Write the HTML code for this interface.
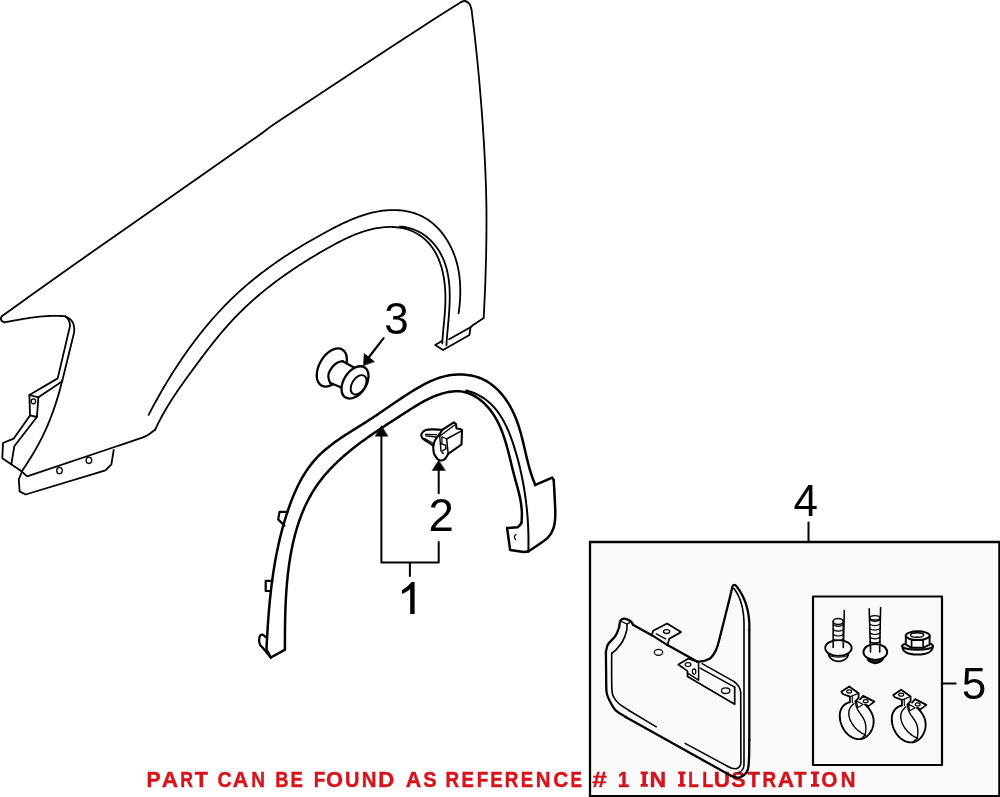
<!DOCTYPE html>
<html><head><meta charset="utf-8"><style>
html,body{margin:0;padding:0;background:#fff;width:1000px;height:797px;overflow:hidden}
svg{position:absolute;left:0;top:0;display:block}
.num{font-family:"Liberation Sans",sans-serif;font-size:44px;fill:#000}
.cap{mix-blend-mode:multiply;stroke:#d7141c;stroke-width:0.45px;font-family:"Liberation Sans",sans-serif;font-size:22.2px;font-weight:bold;fill:#d7141c}
</style></head><body>
<svg width="1000" height="797" viewBox="0 0 1000 797">
<g stroke="#000" stroke-linecap="round" stroke-linejoin="round">
<rect x="590" y="542" width="409.4" height="254.2" fill="#fafafa" stroke="none"/>
<path d="M1.8,316.3 C5.6,313.6 9.8,310.5 24.5,300.0 C39.2,289.5 52.4,279.9 90.0,253.5 C127.6,227.1 218.3,163.8 250.0,141.6 C281.7,119.4 256.7,135.9 280.0,120.3 C303.3,104.7 365.0,64.2 390.0,47.8 C415.0,31.4 418.1,29.5 430.0,21.8 C441.9,14.1 456.3,5.1 461.6,1.8" fill="none" stroke-width="1.8" />
<path d="M461.6,1.8 Q466,-0.8 469.9,4.5 Q472,9 472.2,15 C478,60 486.5,150 486.5,220 C486.5,262 485,295 483.7,318.1 L472.4,325.6" fill="none" stroke-width="1.8" />
<path d="M1.8,316.3 Q-1,320.5 4.4,322.3" fill="none" stroke-width="1.8" />
<path d="M4.40,322.30 L6.48,321.93 L8.55,321.55 L10.63,321.18 L12.71,320.80 L14.79,320.42 L16.87,320.05 L18.95,319.68 L21.03,319.32 L23.12,318.97 L25.20,318.63 L27.29,318.30 L29.38,317.98 L31.47,317.68 L33.56,317.40 L35.65,317.13 L37.75,316.88 L39.85,316.66 L41.95,316.46 L44.05,316.28 L46.15,316.14 L48.26,316.02 L50.37,315.93 L52.48,315.87 L54.59,315.85 L56.71,315.86 L58.83,315.91 L60.95,316.00 L63.07,316.13 L65.20,316.30 Q71.5,318.5 73.5,324 Q74.8,329 74,333 L62.4,380.3" fill="none" stroke-width="1.8" />
<path d="M62.28,380.25 L61.79,382.25 L61.29,384.25 L60.78,386.24 L60.26,388.23 L59.72,390.22 L59.17,392.20 L58.61,394.18 L58.04,396.15 L57.45,398.11 L56.85,400.08 L56.23,402.03 L55.60,403.99 L54.96,405.93 L54.30,407.87 L53.63,409.81 L52.94,411.74 L52.24,413.66 L51.52,415.58 L50.79,417.49 L50.04,419.39 L49.28,421.29 L48.50,423.18 L47.70,425.06 L46.89,426.94 L46.07,428.81 L45.23,430.67 L44.37,432.53 L43.49,434.37 L42.60,436.21 L41.69,438.05 L40.76,439.87 L39.82,441.69 L38.86,443.49 L37.88,445.29 L36.89,447.08 L35.88,448.87 L34.86,450.65 L33.82,452.42 L32.77,454.18 L31.71,455.94 L30.64,457.69 L29.56,459.43 L28.46,461.18 L27.36,462.91 L26.25,464.64 L25.14,466.37 L24.01,468.09 L22.88,469.81 L21.75,471.52" fill="none" stroke-width="1.8" />
<path d="M65.2,316.3 Q70.2,320 70,326 L57.7,378.4 L29.4,395" fill="none" stroke-width="1.8" />
<path d="M62.4,381.2 L38.4,397.3" fill="none" stroke-width="1.8" />
<path d="M29.4,395.0 L38.4,397.3 L36.9,417.0 L30.0,415.4 L29.4,395.0" fill="none" stroke-width="1.8" />
<ellipse cx="33.4" cy="401.3" rx="2.2" ry="2.5" fill="none" stroke-width="1.3"/>
<path d="M30.0,415.4 L13.6,438.7 L3.0,443.0 L2.3,458.3 L21.9,471.6 L27.1,476.4 L119.0,445.5" fill="none" stroke-width="1.8" />
<path d="M119.0,445.5 C122.5,444.3 135.2,440.1 140.0,438.4 C144.8,436.7 145.0,436.8 147.5,435.3 C150.0,433.9 153.8,430.6 155.0,429.7" fill="none" stroke-width="1.8" />
<path d="M36.9,417.0 L14.3,446.3 L11.3,464.3" fill="none" stroke-width="1.8" />
<path d="M21.8,472.0 L18.8,479.4 L19.6,491.4 L25.6,494.5 L105.4,470.4 L111.4,464.3 L113.7,450.0" fill="none" stroke-width="1.8" />
<ellipse cx="59.5" cy="470.6" rx="2.8" ry="3.2" fill="none" stroke-width="1.3"/>
<ellipse cx="88.9" cy="460.3" rx="2.8" ry="3.2" fill="none" stroke-width="1.3"/>
<path d="M148.61,414.91 L149.51,413.16 L150.43,411.42 L151.35,409.67 L152.27,407.93 L153.21,406.18 L154.15,404.44 L155.10,402.69 L156.06,400.95 L157.02,399.20 L157.99,397.46 L158.97,395.72 L159.96,393.98 L160.95,392.25 L161.95,390.51 L162.96,388.78 L163.97,387.05 L165.00,385.32 L166.03,383.59 L167.07,381.86 L168.11,380.14 L169.16,378.42 L170.22,376.70 L171.29,374.99 L172.36,373.28 L173.45,371.57 L174.54,369.87 L175.63,368.17 L176.74,366.47 L177.85,364.78 L178.97,363.09 L180.09,361.40 L181.23,359.72 L182.37,358.04 L183.52,356.37 L184.68,354.71 L185.84,353.04 L187.01,351.39 L188.19,349.73 L189.38,348.09 L190.57,346.45 L191.77,344.81 L192.98,343.18 L194.20,341.56 L195.42,339.94 L196.66,338.33 L197.90,336.72 L199.14,335.12 L200.40,333.53 L201.66,331.94 L202.93,330.36 L204.21,328.79 L205.49,327.23 L206.78,325.67 L208.08,324.12 L209.39,322.58 L210.71,321.05 L212.03,319.52 L213.36,318.00 L214.70,316.49 L216.04,314.99 L217.40,313.50 L218.76,312.01 L220.13,310.53 L221.50,309.07 L222.89,307.61 L224.28,306.16 L225.68,304.72 L227.09,303.29 L228.50,301.87 L229.92,300.46 L231.35,299.06 L232.79,297.67 L234.24,296.29 L235.69,294.92 L237.15,293.56 L238.62,292.21 L240.10,290.87 L241.58,289.54 L243.07,288.22 L244.57,286.91 L246.08,285.60 L247.59,284.31 L249.11,283.03 L250.64,281.75 L252.17,280.48 L253.71,279.23 L255.26,277.98 L256.82,276.74 L258.38,275.50 L259.95,274.28 L261.53,273.06 L263.11,271.86 L264.70,270.66 L266.30,269.47 L267.90,268.28 L269.51,267.11 L271.13,265.94 L272.76,264.78 L274.39,263.63 L276.02,262.48 L277.67,261.34 L279.32,260.21 L280.97,259.09 L282.64,257.97 L284.31,256.86 L285.98,255.75 L287.66,254.66 L289.35,253.56 L291.04,252.48 L292.74,251.40 L294.45,250.33 L296.16,249.26 L297.88,248.20 L299.60,247.15 L301.33,246.10 L303.07,245.06 L304.81,244.02 L306.56,242.99 L308.31,241.96 L310.07,240.94 L311.83,239.92 L313.60,238.91 L315.38,237.91 L317.16,236.91 L318.94,235.91 L320.74,234.92 L322.53,233.93 L324.33,232.95 L326.14,231.97 L327.95,230.99 L329.77,230.03 L331.59,229.07 L333.42,228.11 L335.26,227.17 L337.10,226.24 L338.94,225.33 L340.79,224.42 L342.64,223.54 L344.50,222.67 L346.37,221.81 L348.24,220.98 L350.12,220.17 L352.00,219.37 L353.89,218.61 L355.78,217.86 L357.68,217.14 L359.58,216.45 L361.49,215.79 L363.40,215.16 L365.32,214.55 L367.25,213.98 L369.18,213.44 L371.12,212.94 L373.06,212.47 L375.01,212.04 L376.96,211.65 L378.92,211.30 L380.88,210.99 L382.85,210.72 L384.83,210.50 L386.81,210.32 L388.79,210.19 L390.79,210.10 L392.78,210.07 L394.78,210.08 L396.78,210.14 L398.78,210.26 L400.77,210.43 L402.75,210.65 L404.73,210.93 L406.69,211.27 L408.63,211.66 L410.56,212.11 L412.47,212.63 L414.36,213.20 L416.22,213.84 L418.05,214.53 L419.86,215.30 L421.63,216.13 L423.37,217.02 L425.07,217.98 L426.74,218.99 L428.37,220.07 L429.97,221.21 L431.53,222.40 L433.05,223.65 L434.54,224.95 L435.99,226.30 L437.40,227.70 L438.77,229.15 L440.10,230.64 L441.40,232.18 L442.65,233.75 L443.86,235.37 L445.04,237.03 L446.17,238.72 L447.26,240.45 L448.31,242.21 L449.31,244.00 L450.27,245.82 L451.19,247.66 L452.07,249.54 L452.90,251.43 L453.68,253.35 L454.42,255.29 L455.11,257.25 L455.76,259.22 L456.36,261.21 L456.92,263.21 L457.43,265.22 L457.89,267.24 L458.30,269.28 L458.68,271.31 L459.01,273.36 L459.30,275.40 L459.55,277.46 L459.76,279.51 L459.93,281.56 L460.07,283.61 L460.17,285.66 L460.24,287.71 L460.28,289.75 L460.28,291.78 L460.25,293.80 L460.20,295.82 L460.12,297.82 L460.01,299.82 L459.87,301.79 L459.71,303.76 L459.53,305.71 L459.32,307.63 L459.10,309.55 L458.85,311.44 L458.59,313.30" fill="none" stroke-width="1.8" />
<path d="M155.10,429.81 L155.97,427.94 L156.85,426.09 L157.75,424.25 L158.66,422.43 L159.58,420.62 L160.52,418.82 L161.48,417.04 L162.44,415.26 L163.42,413.51 L164.42,411.76 L165.42,410.02 L166.44,408.29 L167.46,406.58 L168.50,404.87 L169.55,403.17 L170.61,401.48 L171.68,399.80 L172.76,398.13 L173.85,396.46 L174.95,394.80 L176.06,393.14 L177.17,391.49 L178.29,389.85 L179.42,388.21 L180.56,386.58 L181.71,384.95 L182.86,383.32 L184.01,381.69 L185.17,380.07 L186.34,378.45 L187.51,376.83 L188.69,375.21 L189.87,373.59 L191.06,371.98 L192.25,370.36 L193.44,368.74 L194.63,367.11 L195.83,365.49 L197.03,363.87 L198.24,362.25 L199.45,360.62 L200.66,359.00 L201.87,357.38 L203.10,355.76 L204.32,354.15 L205.55,352.53 L206.78,350.92 L208.02,349.31 L209.27,347.70 L210.52,346.10 L211.77,344.51 L213.03,342.91 L214.30,341.33 L215.57,339.75 L216.85,338.17 L218.14,336.60 L219.43,335.04 L220.73,333.49 L222.03,331.94 L223.35,330.40 L224.67,328.87 L225.99,327.35 L227.33,325.84 L228.67,324.33 L230.02,322.84 L231.38,321.36 L232.75,319.89 L234.12,318.43 L235.51,316.98 L236.90,315.54 L238.30,314.11 L239.71,312.70 L241.12,311.29 L242.55,309.90 L243.98,308.51 L245.42,307.14 L246.87,305.77 L248.33,304.42 L249.79,303.07 L251.27,301.73 L252.75,300.41 L254.23,299.09 L255.73,297.79 L257.23,296.49 L258.74,295.20 L260.26,293.92 L261.79,292.65 L263.32,291.39 L264.86,290.13 L266.41,288.89 L267.97,287.65 L269.53,286.42 L271.10,285.20 L272.68,283.99 L274.26,282.79 L275.85,281.59 L277.45,280.40 L279.06,279.22 L280.67,278.05 L282.29,276.88 L283.92,275.72 L285.55,274.57 L287.19,273.43 L288.84,272.29 L290.49,271.16 L292.15,270.03 L293.81,268.92 L295.49,267.80 L297.16,266.70 L298.85,265.60 L300.54,264.51 L302.24,263.42 L303.94,262.34 L305.65,261.26 L307.37,260.19 L309.09,259.13 L310.82,258.07 L312.56,257.02 L314.30,255.97 L316.04,254.92 L317.79,253.89 L319.55,252.85 L321.32,251.82 L323.09,250.80 L324.86,249.78 L326.64,248.76 L328.43,247.75 L330.22,246.75 L332.02,245.75 L333.82,244.76 L335.63,243.79 L337.44,242.83 L339.27,241.88 L341.09,240.94 L342.92,240.03 L344.76,239.13 L346.61,238.25 L348.46,237.39 L350.32,236.56 L352.18,235.75 L354.05,234.96 L355.92,234.21 L357.81,233.48 L359.69,232.78 L361.59,232.12 L363.49,231.49 L365.40,230.89 L367.31,230.33 L369.23,229.80 L371.16,229.32 L373.09,228.88 L375.03,228.47 L376.98,228.12 L378.93,227.80 L380.89,227.54 L382.86,227.32 L384.83,227.15 L386.82,227.03 L388.80,226.97 L390.80,226.96 L392.80,227.00 L394.80,227.11 L396.80,227.27 L398.80,227.51 L400.78,227.81 L402.75,228.18 L404.70,228.62 L406.64,229.15 L408.54,229.75 L410.42,230.43 L412.27,231.20 L414.08,232.04 L415.86,232.96 L417.59,233.96 L419.28,235.02 L420.92,236.15 L422.52,237.34 L424.06,238.60 L425.55,239.91 L426.98,241.29 L428.34,242.71 L429.65,244.19 L430.89,245.72 L432.07,247.29 L433.19,248.91 L434.25,250.57 L435.26,252.28 L436.21,254.02 L437.11,255.80 L437.95,257.61 L438.74,259.45 L439.48,261.33 L440.17,263.23 L440.81,265.16 L441.40,267.11 L441.95,269.09 L442.45,271.08 L442.91,273.09 L443.32,275.12 L443.69,277.16 L444.03,279.21 L444.32,281.27 L444.58,283.33 L444.80,285.40 L444.98,287.48 L445.13,289.55 L445.25,291.62 L445.34,293.69 L445.39,295.75 L445.42,297.81 L445.41,299.85 L445.39,301.88 L445.33,303.90 L445.25,305.91 L445.15,307.91 L445.04,309.90 L444.90,311.88 L444.76,313.86 L444.59,315.83 L444.42,317.79 L444.25,319.76 L444.06,321.72 L443.88,323.68 L443.69,325.64 L443.50,327.60 L443.31,329.57 L443.13,331.54 L442.96,333.51 L442.80,335.49 L442.65,337.47 L442.51,339.47 L442.39,341.47 L442.28,343.49" fill="none" stroke-width="1.8" />
<path d="M399.65,226.57 L401.88,226.74 L404.06,227.01 L406.20,227.38 L408.29,227.83 L410.33,228.38 L412.33,229.00 L414.28,229.71 L416.18,230.50 L418.02,231.37 L419.82,232.31 L421.57,233.33 L423.27,234.41 L424.92,235.56 L426.52,236.77 L428.06,238.04 L429.56,239.37 L431.00,240.76 L432.38,242.20 L433.72,243.69 L434.99,245.22 L436.22,246.81 L437.38,248.43 L438.50,250.09 L439.55,251.79 L440.55,253.52 L441.49,255.29 L442.38,257.08 L443.20,258.90 L443.97,260.74 L444.68,262.61 L445.33,264.49 L445.93,266.40 L446.48,268.32 L446.98,270.26 L447.43,272.22 L447.84,274.19 L448.20,276.18 L448.52,278.19 L448.79,280.20 L449.03,282.23 L449.23,284.27 L449.39,286.32 L449.52,288.37 L449.61,290.44 L449.68,292.51 L449.72,294.58 L449.73,296.66 L449.71,298.75 L449.67,300.83 L449.61,302.92 L449.53,305.01 L449.43,307.10 L449.31,309.19 L449.18,311.27 L449.04,313.35 L448.89,315.43 L448.72,317.50 L448.55,319.56 L448.37,321.62 L448.19,323.66 L448.01,325.70 L447.82,327.73 L447.64,329.74 L447.46,331.74 L447.28,333.73 L447.11,335.70 L446.95,337.66 L446.80,339.60 L446.66,341.52 L446.53,343.42 L446.42,345.31" fill="none" stroke-width="1.8" />
<path d="M472.4,325.6 L470.5,327.5 L469.4,335.0 L443.0,350.0 L435.2,345.1 L442.0,341.0" fill="none" stroke-width="1.8" />
<path d="M470.5,327.3 L449.1,339.3" fill="none" stroke-width="1.8" />
<ellipse cx="331.8" cy="367.5" rx="20.8" ry="12.6" transform="rotate(-60 331.8 367.5)" fill="#fff" stroke-width="2.3"/>
<path d="M342.6,361.2 L354.5,367.7 L357,385 L342.6,388.1 L330.4,383.2 C327,378 328,368 342.6,361.2Z" fill="#fff" stroke-width="0" stroke="none"/>
<path d="M342.6,361.2 C334,362 327,372 328.6,378.5 C329,381 330,382.5 330.4,383.2" fill="none" stroke-width="2.2" />
<path d="M342.6,361.2 L354.5,367.7 M330.4,383 L342.6,388.1" fill="none" stroke-width="2.2" />
<ellipse cx="355" cy="382.4" rx="17.8" ry="11.2" transform="rotate(-57 355 382.4)" fill="#fff" stroke-width="2.3"/>
<ellipse cx="358.6" cy="384.8" rx="10.6" ry="6.6" transform="rotate(-58 358.6 384.8)" fill="#fff" stroke-width="1.9"/>
<path d="M383.6,338.2 L369.0,357.0" fill="none" stroke-width="2.2" />
<path d="M363.4,365.5 L364.2,353.5 L374.4,361.6Z" fill="#000" stroke-width="0.5" />
<path d="M266.43,650.57 L266.52,648.57 L266.62,646.57 L266.72,644.57 L266.82,642.57 L266.93,640.57 L267.03,638.57 L267.14,636.57 L267.26,634.57 L267.38,632.57 L267.50,630.56 L267.62,628.56 L267.75,626.56 L267.89,624.56 L268.02,622.56 L268.17,620.56 L268.31,618.55 L268.46,616.55 L268.62,614.55 L268.78,612.55 L268.95,610.55 L269.12,608.55 L269.29,606.55 L269.48,604.55 L269.67,602.55 L269.86,600.55 L270.06,598.55 L270.27,596.56 L270.48,594.56 L270.70,592.56 L270.93,590.57 L271.16,588.57 L271.40,586.58 L271.65,584.59 L271.91,582.60 L272.17,580.61 L272.44,578.62 L272.72,576.63 L273.01,574.64 L273.30,572.66 L273.60,570.67 L273.92,568.69 L274.24,566.71 L274.57,564.73 L274.90,562.75 L275.25,560.77 L275.61,558.80 L275.98,556.82 L276.35,554.85 L276.74,552.88 L277.14,550.91 L277.54,548.95 L277.96,546.98 L278.39,545.02 L278.82,543.06 L279.27,541.10 L279.73,539.14 L280.20,537.19 L280.69,535.24 L281.18,533.29 L281.68,531.34 L282.20,529.40 L282.73,527.45 L283.27,525.51 L283.82,523.58 L284.39,521.64 L284.97,519.71 L285.56,517.78 L286.16,515.85 L286.78,513.93 L287.41,512.00 L288.05,510.09 L288.71,508.17 L289.38,506.26 L290.07,504.35 L290.77,502.46 L291.49,500.56 L292.23,498.68 L292.98,496.80 L293.76,494.94 L294.55,493.08 L295.36,491.24 L296.19,489.40 L297.04,487.58 L297.91,485.77 L298.81,483.98 L299.73,482.20 L300.67,480.44 L301.63,478.70 L302.62,476.97 L303.64,475.26 L304.68,473.57 L305.75,471.90 L306.84,470.25 L307.96,468.62 L309.11,467.01 L310.29,465.43 L311.49,463.87 L312.73,462.34 L314.00,460.83 L315.30,459.35 L316.63,457.89 L317.99,456.47 L319.39,455.07 L320.81,453.69 L322.26,452.34 L323.74,451.02 L325.24,449.71 L326.77,448.43 L328.32,447.16 L329.89,445.92 L331.48,444.70 L333.10,443.49 L334.72,442.29 L336.37,441.12 L338.03,439.95 L339.70,438.80 L341.39,437.66 L343.08,436.53 L344.79,435.41 L346.51,434.30 L348.23,433.20 L349.96,432.10 L351.69,431.01 L353.42,429.92 L355.16,428.84 L356.90,427.76 L358.63,426.68 L360.37,425.60 L362.10,424.51 L363.83,423.43 L365.55,422.34 L367.26,421.25 L368.96,420.15 L370.66,419.05 L372.35,417.94 L374.02,416.83 L375.70,415.71 L377.36,414.59 L379.02,413.47 L380.68,412.34 L382.33,411.21 L383.98,410.09 L385.62,408.96 L387.27,407.83 L388.91,406.70 L390.55,405.57 L392.20,404.44 L393.84,403.32 L395.49,402.19 L397.14,401.07 L398.80,399.96 L400.46,398.85 L402.12,397.74 L403.79,396.64 L405.47,395.55 L407.15,394.46 L408.85,393.38 L410.55,392.30 L412.26,391.24 L413.99,390.18 L415.72,389.14 L417.47,388.10 L419.23,387.08 L421.00,386.07 L422.78,385.09 L424.58,384.13 L426.39,383.20 L428.22,382.30 L430.06,381.43 L431.91,380.60 L433.78,379.81 L435.67,379.07 L437.57,378.37 L439.48,377.72 L441.42,377.13 L443.37,376.60 L445.33,376.12 L447.30,375.70 L449.29,375.35 L451.28,375.05 L453.27,374.81 L455.27,374.63 L457.26,374.52 L459.26,374.47 L461.24,374.48 L463.23,374.55 L465.20,374.69 L467.16,374.90 L469.11,375.17 L471.04,375.50 L472.95,375.91 L474.84,376.38 L476.71,376.92 L478.56,377.53 L480.37,378.22 L482.16,378.97 L483.91,379.79 L485.63,380.69 L487.31,381.65 L488.96,382.69 L490.57,383.79 L492.14,384.95 L493.68,386.18 L495.18,387.46 L496.64,388.80 L498.07,390.19 L499.46,391.63 L500.80,393.12 L502.11,394.66 L503.39,396.23 L504.62,397.85 L505.81,399.50 L506.97,401.19 L508.08,402.92 L509.15,404.67 L510.19,406.44 L511.18,408.25 L512.13,410.07 L513.05,411.91 L513.92,413.77 L514.74,415.65 L515.54,417.54 L516.29,419.44 L517.01,421.35 L517.70,423.27 L518.35,425.20 L518.98,427.15 L519.58,429.10 L520.16,431.05 L520.72,433.01 L521.26,434.98 L521.78,436.95 L522.28,438.93 L522.78,440.91 L523.26,442.89 L523.73,444.86 L524.19,446.84 L524.65,448.82 L525.11,450.79 L525.57,452.76 L526.03,454.73 L526.49,456.69 L526.96,458.65 L527.44,460.60 L527.93,462.54 L528.43,464.47 L528.94,466.39 L529.47,468.30 L530.02,470.20 L530.59,472.08 L531.18,473.95 L531.80,475.81 L532.45,477.65 L533.12,479.47 L533.83,481.28 L534.57,483.07 L535.35,484.84" fill="none" stroke-width="2.5" />
<path d="M270.8,657.5 L267.1,650.6" fill="none" stroke-width="2.5" />
<path d="M534.9,485.2 L552.2,477.6 L553.7,479.9" fill="none" stroke-width="2.5" />
<path d="M553.7,479.9 C554.0,485.5 555.3,505.8 555.3,513.7 C555.3,521.6 555.0,523.3 553.7,527.3 C552.4,531.3 552.0,533.8 547.7,537.8 C543.5,541.8 531.5,549.1 528.2,551.4" fill="none" stroke-width="2.5" />
<path d="M528.2,551.4 L523.6,552.1 L510.1,549.9 L507.1,528.0 L517.6,527.3 L520.6,524.3 L521.4,522.8" fill="none" stroke-width="2.5" />
<path d="M284.94,649.42 L284.93,647.56 L284.93,645.68 L284.93,643.79 L284.93,641.89 L284.94,639.98 L284.94,638.06 L284.95,636.14 L284.96,634.20 L284.97,632.25 L284.99,630.30 L285.01,628.34 L285.03,626.37 L285.06,624.40 L285.09,622.41 L285.12,620.42 L285.17,618.43 L285.21,616.43 L285.26,614.42 L285.32,612.41 L285.39,610.39 L285.46,608.37 L285.53,606.34 L285.62,604.31 L285.71,602.28 L285.81,600.24 L285.92,598.20 L286.03,596.16 L286.16,594.12 L286.29,592.07 L286.43,590.02 L286.59,587.97 L286.75,585.92 L286.92,583.87 L287.10,581.82 L287.30,579.77 L287.50,577.72 L287.72,575.68 L287.94,573.63 L288.18,571.58 L288.43,569.54 L288.70,567.49 L288.97,565.46 L289.26,563.42 L289.56,561.38 L289.88,559.35 L290.21,557.33 L290.56,555.31 L290.92,553.29 L291.29,551.28 L291.68,549.27 L292.09,547.27 L292.51,545.27 L292.95,543.28 L293.40,541.30 L293.87,539.32 L294.36,537.35 L294.86,535.39 L295.38,533.44 L295.93,531.49 L296.48,529.55 L297.06,527.63 L297.66,525.71 L298.27,523.80 L298.91,521.90 L299.56,520.01 L300.24,518.13 L300.93,516.26 L301.65,514.41 L302.38,512.56 L303.14,510.73 L303.92,508.91 L304.72,507.10 L305.54,505.31 L306.39,503.53 L307.26,501.76 L308.15,500.00 L309.06,498.26 L310.00,496.54 L310.97,494.83 L311.95,493.13 L312.96,491.45 L314.00,489.79 L315.06,488.14 L316.15,486.51 L317.26,484.90 L318.40,483.30 L319.56,481.72 L320.75,480.16 L321.96,478.61 L323.19,477.08 L324.45,475.56 L325.73,474.06 L327.03,472.57 L328.35,471.10 L329.69,469.64 L331.06,468.20 L332.44,466.77 L333.84,465.35 L335.26,463.95 L336.69,462.56 L338.15,461.18 L339.62,459.82 L341.10,458.46 L342.60,457.12 L344.12,455.79 L345.65,454.47 L347.20,453.17 L348.76,451.87 L350.33,450.59 L351.91,449.31 L353.51,448.05 L355.11,446.79 L356.73,445.54 L358.36,444.31 L360.00,443.08 L361.64,441.86 L363.30,440.65 L364.96,439.45 L366.63,438.25 L368.31,437.06 L369.99,435.88 L371.68,434.71 L373.38,433.54 L375.08,432.38 L376.78,431.23 L378.49,430.08 L380.20,428.94 L381.91,427.80 L383.62,426.67 L385.34,425.54 L387.06,424.42 L388.77,423.30 L390.49,422.19 L392.21,421.08 L393.92,419.97 L395.64,418.87 L397.35,417.76 L399.05,416.67 L400.76,415.57 L402.46,414.47 L404.16,413.38 L405.85,412.29 L407.53,411.20 L409.22,410.12 L410.90,409.05 L412.58,407.98 L414.27,406.93 L415.96,405.89 L417.65,404.86 L419.35,403.86 L421.06,402.87 L422.78,401.91 L424.51,400.97 L426.25,400.06 L428.00,399.17 L429.77,398.32 L431.56,397.50 L433.37,396.71 L435.19,395.96 L437.04,395.25 L438.91,394.59 L440.81,393.96 L442.73,393.38 L444.67,392.86 L446.63,392.39 L448.59,391.99 L450.57,391.67 L452.55,391.42 L454.53,391.26 L456.50,391.19 L458.46,391.23 L460.41,391.37 L462.33,391.62 L464.24,391.99 L466.12,392.47 L467.97,393.06 L469.79,393.75 L471.58,394.53 L473.34,395.41 L475.06,396.37 L476.74,397.41 L478.39,398.53 L480.00,399.72 L481.56,400.98 L483.08,402.29 L484.56,403.66 L485.98,405.09 L487.36,406.56 L488.68,408.07 L489.95,409.62 L491.17,411.20 L492.33,412.82 L493.45,414.47 L494.52,416.14 L495.55,417.85 L496.53,419.59 L497.47,421.35 L498.37,423.14 L499.24,424.95 L500.07,426.78 L500.86,428.64 L501.62,430.51 L502.35,432.40 L503.05,434.31 L503.73,436.24 L504.37,438.17 L505.00,440.12 L505.60,442.09 L506.19,444.06 L506.75,446.04 L507.30,448.02 L507.84,450.02 L508.36,452.01 L508.87,454.01 L509.37,456.01 L509.86,458.01 L510.35,460.01 L510.84,462.01 L511.32,464.00 L511.80,465.98 L512.29,467.96 L512.78,469.93 L513.27,471.90 L513.77,473.85 L514.28,475.78 L514.79,477.71 L515.32,479.62 L515.85,481.52 L516.37,483.42 L516.90,485.31 L517.41,487.19 L517.92,489.08 L518.41,490.96 L518.88,492.85 L519.33,494.74 L519.75,496.64 L520.15,498.55 L520.52,500.46 L520.85,502.39 L521.14,504.34 L521.38,506.30 L521.59,508.28 L521.74,510.28 L521.84,512.30 L521.88,514.35 L521.86,516.42 L521.78,518.52 L521.64,520.66 L521.42,522.82" fill="none" stroke-width="2.5" />
<path d="M270.8,657.5 L284.7,649.8" fill="none" stroke-width="2.5" />
<path d="M466.37,390.49 L468.54,391.08 L470.64,391.75 L472.67,392.48 L474.65,393.28 L476.56,394.13 L478.41,395.05 L480.20,396.03 L481.94,397.06 L483.62,398.15 L485.25,399.29 L486.82,400.49 L488.34,401.73 L489.81,403.03 L491.23,404.37 L492.60,405.75 L493.93,407.19 L495.21,408.66 L496.45,410.17 L497.64,411.72 L498.80,413.31 L499.91,414.94 L500.98,416.60 L502.02,418.29 L503.02,420.01 L503.99,421.76 L504.92,423.54 L505.82,425.34 L506.69,427.17 L507.53,429.02 L508.35,430.89 L509.13,432.78 L509.89,434.69 L510.63,436.61 L511.34,438.55 L512.04,440.50 L512.71,442.46 L513.36,444.43 L514.00,446.40 L514.62,448.38 L515.23,450.37 L515.82,452.36 L516.40,454.35 L516.96,456.34 L517.51,458.34 L518.04,460.34 L518.57,462.34 L519.07,464.35 L519.57,466.36 L520.05,468.37 L520.52,470.38 L520.97,472.39 L521.41,474.41 L521.83,476.42 L522.25,478.44 L522.64,480.46 L523.03,482.49 L523.40,484.51 L523.76,486.53 L524.10,488.56 L524.43,490.58 L524.75,492.61 L525.06,494.64 L525.35,496.67 L525.63,498.69 L525.89,500.72 L526.14,502.75 L526.38,504.78 L526.61,506.81 L526.82,508.84 L527.02,510.87 L527.21,512.89 L527.38,514.92 L527.54,516.95 L527.69,518.97 L527.83,521.00 L527.95,523.02 L528.06,525.05 L528.16,527.07 L528.24,529.09 L528.31,531.11 L528.37,533.13 L528.42,535.14 L528.45,537.15 L528.47,539.17 L528.48,541.18 L528.48,543.18 L528.47,545.19 L528.44,547.19 L528.40,549.19 L528.35,551.19" fill="none" stroke-width="2.0" />
<path d="M265.9,637.1 C265.3,636.7 263.3,634.6 262.2,634.7 C261.1,634.8 259.8,636.0 259.4,637.5 C259.0,639.0 259.2,642.2 259.8,644.0 C260.4,645.8 261.2,645.9 263.0,648.1 C264.8,650.4 269.5,655.9 270.8,657.5" fill="none" stroke-width="2.3" />
<path d="M287.6,511.9 L279.5,511.9 L278.2,519.4 L284.5,525.7" fill="none" stroke-width="2.2" />
<path d="M272.4,580.9 L265.7,580.9 L265.7,591.0 L270.7,591.0" fill="none" stroke-width="2.2" />
<path d="M516,534.5 Q513,536.5 515.5,539.5" fill="none" stroke-width="1.2" />
<path d="M442.2,429.9 C440.7,429.8 435.8,429.4 433.1,429.4 C430.4,429.4 427.7,429.3 425.8,430.0 C423.9,430.7 422.2,432.4 421.6,433.7 C421.0,435.0 421.3,436.6 422.2,437.9 C423.1,439.2 425.1,440.2 427.0,441.5 C428.9,442.8 432.4,445.1 433.5,445.8" fill="none" stroke-width="2.1" />
<path d="M425.5,434.5 L436.6,434.6" fill="none" stroke-width="1.4" />
<path d="M425.8,435.8 L436.1,437.0" fill="none" stroke-width="1.3" />
<path d="M424.6,438.5 L434.4,444.0" fill="none" stroke-width="1.4" />
<path d="M439.7,434.0 C439.0,434.9 436.6,437.6 435.5,439.5 C434.4,441.4 433.6,443.7 433.3,445.6 C433.0,447.5 433.4,449.5 433.6,451.0 C433.8,452.5 433.5,453.0 434.4,454.5 C435.3,456.0 437.1,459.2 438.8,460.0 C440.5,460.8 442.8,460.4 444.4,459.4 C446.0,458.4 447.6,454.8 448.2,453.9" fill="none" stroke-width="2.1" />
<path d="M439.7,434.0 L442.2,429.9 L453.8,422.4 L456.0,424.1 L456.5,428.5 L460.1,429.0 L462.0,429.9 L461.5,444.5 L448.2,453.9" fill="none" stroke-width="2.1" />
<path d="M439.7,436.2 L454.3,425.2" fill="none" stroke-width="1.4" />
<path d="M446.6,439.0 L460.7,431.3" fill="none" stroke-width="1.5" />
<path d="M446.6,439.0 L448.2,453.9" fill="none" stroke-width="1.5" />
<path d="M439.7,436.2 L441.0,451.1 L443.3,453.4" fill="none" stroke-width="1.4" />
<path d="M441.9,437.3 L441.9,444.0" fill="none" stroke-width="1.2" />
<path d="M441,444 L445.5,445.1 L446,448.9 L442.7,450.6" fill="none" stroke-width="1.4" />
<path d="M446.6,439.0 L442.2,436.8" fill="none" stroke-width="1.2" />
<path d="M381.4,436 L381.4,562.5 L438.7,562.5 L438.7,542.1 M438.7,493.2 L438.7,470 M409.9,562.5 L409.9,576" fill="none" stroke-width="2" />
<path d="M381.4,425.8 L375.2,436.2 L387.8,436.2Z" fill="#000" stroke-width="0.5" />
<path d="M438.6,460.4 L432.2,470.4 L445.2,470.4Z" fill="#000" stroke-width="0.5" />
<path d="M590,542 L999.4,542 L999.4,796.2 L590,796.2Z" fill="none" stroke-width="2.3" stroke-linecap="square" stroke-linejoin="miter"/>
<path d="M808.5,522.5 L808.5,542" fill="none" stroke-width="2" />
<path d="M813,596.5 L942,596.5 L942,765 L813,765Z" fill="none" stroke-width="2.2" />
<path d="M942,683.5 L955.6,683.5" fill="none" stroke-width="2" />
<path d="M632.9,624.4 C632.5,623.9 632.0,622.3 630.6,621.3 C629.2,620.3 626.0,618.7 624.3,618.6 C622.6,618.5 621.2,619.2 620.3,620.8 C619.4,622.4 619.7,625.5 618.9,628.0 C618.1,630.5 617.1,633.4 615.3,636.1 C613.5,638.8 609.7,641.6 608.1,644.2 C606.5,646.9 606.3,650.7 605.9,652.0" fill="none" stroke-width="2.3" />
<path d="M605.9,652.0 C606.0,656.7 606.1,673.3 606.2,680.0 C606.3,686.7 606.1,688.9 606.6,692.3 C607.1,695.7 608.0,697.5 609.5,700.5 C611.0,703.5 612.7,707.2 615.4,710.0 C618.1,712.8 623.9,715.8 625.6,717.0" fill="none" stroke-width="2.3" />
<path d="M625.6,717.0 L731.0,775.8" fill="none" stroke-width="2.3" />
<path d="M731.0,775.8 C732.4,776.1 736.7,778.6 739.5,777.5 C742.3,776.4 746.4,775.2 748.0,769.0 C749.6,762.8 749.1,744.8 749.3,740.0" fill="none" stroke-width="2.3" />
<path d="M749.3,740.0 L749.3,630.0" fill="none" stroke-width="2.3" />
<path d="M749.28,630.00 L749.31,628.96 L749.34,627.92 L749.35,626.88 L749.35,625.84 L749.33,624.79 L749.30,623.75 L749.26,622.71 L749.21,621.66 L749.14,620.62 L749.05,619.58 L748.95,618.54 L748.84,617.50 L748.72,616.46 L748.57,615.42 L748.42,614.39 L748.25,613.36 L748.06,612.33 L747.86,611.30 L747.64,610.28 L747.41,609.26 L747.16,608.25 L746.90,607.24 L746.62,606.24 L746.33,605.24 L746.02,604.25 L745.69,603.26 L745.34,602.28 L744.98,601.30 L744.61,600.33 L744.21,599.37 L743.80,598.42 L743.37,597.47 L742.92,596.53 L742.46,595.60 L741.98,594.68 L741.48,593.76 L740.96,592.86 L740.43,591.96 L739.88,591.08 L739.31,590.20 L738.72,589.34 L738.11,588.49 L737.48,587.64 L736.83,586.81 L736.17,585.99 L735.48,585.18 Q733,584 732.2,587.5 L730,597" fill="none" stroke-width="2.3" />
<path d="M730,597 L719.2,640 C717.5,648 714,655 710.1,658.6 C706,661 700,661.8 697.1,661.6" fill="none" stroke-width="2.3" />
<path d="M632.9,624.8 L651.8,635.2" fill="none" stroke-width="2.3" />
<path d="M667.5,645.1 L697.1,661.6" fill="none" stroke-width="2.3" />
<path d="M621.6,621.7 L627,624 L629.7,622.6" fill="none" stroke-width="1.3" />
<path d="M627.0,624.4 C626.9,625.5 627.4,627.9 626.6,630.7 C625.9,633.6 624.2,638.4 622.5,641.5 C620.8,644.6 618.0,647.6 616.2,649.6 C614.4,651.6 612.5,652.6 611.7,653.2" fill="none" stroke-width="1.6" />
<path d="M611.7,653.2 C611.7,659.2 611.5,681.5 611.9,688.9 C612.3,696.3 612.9,695.1 614.0,697.5 C615.1,699.9 616.3,701.3 618.8,703.5 C621.3,705.7 627.3,709.3 629.0,710.5" fill="none" stroke-width="1.6" />
<path d="M629.0,710.5 L656.3,726.8" fill="none" stroke-width="1.5" />
<path d="M685.1,743.3 L728.0,766.5" fill="none" stroke-width="1.5" />
<path d="M728,766.5 Q732,769 736.1,768.8 Q741,767 740.9,762 L740.7,692.2 Q740,686 734.2,681.7" fill="none" stroke-width="1.6" />
<path d="M734.2,681.7 L702.1,663.6" fill="none" stroke-width="1.5" />
<path d="M733.90,588.49 L734.53,589.34 L735.14,590.19 L735.72,591.06 L736.28,591.95 L736.81,592.84 L737.32,593.75 L737.81,594.67 L738.27,595.59 L738.71,596.53 L739.14,597.48 L739.54,598.44 L739.92,599.41 L740.28,600.38 L740.62,601.36 L740.94,602.35 L741.24,603.35 L741.52,604.35 L741.79,605.36 L742.04,606.37 L742.27,607.39 L742.48,608.42 L742.68,609.44 L742.86,610.48 L743.03,611.51 L743.18,612.55 L743.32,613.58 L743.44,614.62 L743.55,615.66 L743.65,616.70 L743.74,617.75 L743.81,618.79 L743.87,619.83 L743.92,620.86 L743.95,621.90 L743.98,622.94 L744.00,623.97 L744.00,625.00 L744,765 Q743.5,771 738,773" fill="none" stroke-width="1.6" />
<path d="M651.8,635.2 L653.1,630.7 L667.1,623.5 L681.0,632.1 L669.3,638.8 L667.5,645.1" fill="none" stroke-width="1.8" />
<path d="M656.3,633.9 L665.7,638.8" fill="none" stroke-width="1.3" />
<path d="M651.8,635.2 L667.5,645.1" fill="none" stroke-width="2.0" />
<ellipse cx="666.6" cy="631.6" rx="3.1" ry="1.9" fill="none" stroke-width="1.3"/>
<ellipse cx="658.5" cy="652.3" rx="4.2" ry="3" fill="none" stroke-width="1.3"/>
<path d="M697.1,661.6 L688.5,658.6 L678.3,664.5 L687.5,671.1 L687.5,676.6 L734.7,704.3 L734.7,687.2" fill="none" stroke-width="1.7" />
<path d="M698.6,662.6 L698.6,680.2 L687.5,673.1" fill="none" stroke-width="1.5" />
<path d="M700.1,668.1 L734.7,687.2" fill="none" stroke-width="1.5" />
<ellipse cx="688" cy="664.6" rx="2.9" ry="1.9" fill="none" stroke-width="1.2"/>
<ellipse cx="694.1" cy="671.6" rx="1.7" ry="2.7" fill="none" stroke-width="1.2"/>
<ellipse cx="725.7" cy="690.7" rx="4.2" ry="2.8" fill="none" stroke-width="1.3"/>
<path d="M833.2,647 L833.2,621.3 M843.3,647 L843.3,621.3 M844.3,610.5 L843.6,640" fill="none" stroke-width="1.6" />
<ellipse cx="838.2" cy="621.5" rx="5" ry="3" fill="#fafafa" stroke-width="1.6"/>
<path d="M833.2,624.8 Q838.2,627.8 843.3,624.8" fill="none" stroke-width="1.2" />
<path d="M833.2,629.7 Q838.2,632.7 843.3,629.7" fill="none" stroke-width="1.2" />
<path d="M833.2,634.5 Q838.2,637.5 843.3,634.5" fill="none" stroke-width="1.2" />
<path d="M833.2,639.3 Q838.2,642.3 843.3,639.3" fill="none" stroke-width="1.2" />
<path d="M833.2,643.7 Q838.2,646.7 843.3,643.7" fill="none" stroke-width="1.2" />
<path d="M828.3,652.5 C828.5,656 830,658.5 833,660 C836,661.8 841,661.8 844,660 C847,658.5 848.3,656 848.5,652.5" fill="#fafafa" stroke-width="1.8" />
<ellipse cx="838.4" cy="648" rx="13.2" ry="7.9" fill="#fafafa" stroke-width="1.9"/>
<path d="M828.8,655.5 Q838.4,659 848.2,655.5" fill="none" stroke-width="1.2" />
<path d="M833.2,647.5 L833.2,642 M843.3,647.5 L843.3,642" fill="none" stroke-width="1.6" />
<path d="M869.2,608.8 L870.5,650 M880.6,607.5 L879.7,650" fill="none" stroke-width="1.6" />
<ellipse cx="874.9" cy="617.8" rx="5" ry="2.2" fill="none" stroke-width="1.4"/>
<path d="M869.7,619.9 Q875,622.7 880.1,619.9" fill="none" stroke-width="1.2" />
<path d="M869.7,624.3 Q875,627.1 880.1,624.3" fill="none" stroke-width="1.2" />
<path d="M869.7,628.7 Q875,631.5 880.1,628.7" fill="none" stroke-width="1.2" />
<path d="M869.7,633.1 Q875,635.9 880.1,633.1" fill="none" stroke-width="1.2" />
<path d="M869.7,637.4 Q875,640.2 880.1,637.4" fill="none" stroke-width="1.2" />
<path d="M869.7,641.8 Q875,644.6 880.1,641.8" fill="none" stroke-width="1.2" />
<path d="M869.7,646.2 Q875,649.0 880.1,646.2" fill="none" stroke-width="1.2" />
<path d="M867.4,657 C867.5,660 870,662.5 875.3,663.2 C880.5,662.5 883,660 883.2,657" fill="#333" stroke-width="2.2" />
<ellipse cx="875.3" cy="652" rx="11.9" ry="7.9" fill="#fafafa" stroke-width="1.9"/>
<path d="M870.5,652 L870.5,646 M879.7,652 L879.7,646" fill="none" stroke-width="1.6" />
<path d="M869.7,641.8 Q875,644.6 880.1,641.8" fill="none" stroke-width="1.2" />
<path d="M902.3,646 C902.3,651.5 908,654.6 917.6,654.6 C927,654.6 932.9,651.5 932.9,646" fill="#fafafa" stroke-width="2.0" />
<ellipse cx="917.6" cy="646" rx="15.3" ry="3.8" fill="#fafafa" stroke-width="2.0"/>
<path d="M905.8,635.5 L905.8,644.6 L911.6,647.8 L923.1,647.8 L929.6,644.6 L929.6,635.5 Z" fill="#fafafa" stroke-width="1.9" />
<ellipse cx="917.7" cy="635.6" rx="12" ry="4.3" fill="#fafafa" stroke-width="1.9"/>
<ellipse cx="917.1" cy="635.0" rx="6.6" ry="2.3" fill="none" stroke-width="1.4"/>
<path d="M905.8,637.1 L911.6,640.1 L923.1,640.1 L929.6,637.1 M911.6,640.1 L911.6,647.8 M923.1,640.1 L923.1,647.8" fill="none" stroke-width="1.6" />
<g transform="translate(0.00 0.00)"><path d="M849.89,702.20 L848.20,702.69 L846.68,703.34 L845.32,704.12 L844.12,705.03 L843.08,706.06 L842.20,707.19 L841.45,708.42 L840.85,709.74 L840.39,711.12 L840.05,712.57 L839.85,714.07 L839.77,715.61 L839.80,717.17 L839.95,718.76 L840.20,720.34 L840.56,721.93 L841.02,723.49 L841.58,725.04 L842.22,726.55 L842.96,728.02 L843.78,729.43 L844.69,730.79 L845.67,732.07 L846.73,733.28 L847.87,734.40 L849.07,735.42 L850.34,736.34 L851.66,737.14 L853.05,737.81 L854.50,738.36 L855.98,738.76 L857.49,739.01 L858.99,739.10 L860.46,739.02 L861.90,738.77 L863.27,738.35 L864.58,737.77 L865.83,737.03 L867.00,736.17 L868.10,735.17 L869.11,734.07 L870.03,732.86 L870.87,731.57 L871.60,730.20 L872.23,728.76 L872.75,727.26 L873.16,725.73 L873.45,724.16 L873.61,722.58 L873.65,720.99 L873.55,719.40 L873.32,717.83 L872.94,716.28 L872.43,714.77 L871.79,713.31 L871.05,711.88 L870.22,710.52 L869.31,709.20 L868.34,707.96 L867.32,706.78 L866.27,705.68 L865.20,704.66" fill="none" stroke-width="1.9"/><path d="M854.01,703.65 L852.61,704.76 L851.44,705.95 L850.50,707.21 L849.78,708.55 L849.25,709.93 L848.92,711.37 L848.78,712.84 L848.80,714.34 L848.99,715.85 L849.32,717.38 L849.80,718.90 L850.41,720.41 L851.13,721.90 L851.97,723.36 L852.90,724.77 L853.91,726.14 L855.01,727.45 L856.17,728.69 L857.38,729.85 L858.64,730.93 L859.93,731.90 L861.24,732.77 L862.57,733.52 L863.90,734.14 L865.22,734.63" fill="none" stroke-width="1.4"/><path d="M856.13,700.87 L855.86,702.47 L855.84,704.01 L856.05,705.49 L856.45,706.92 L857.02,708.31 L857.71,709.68 L858.51,711.02 L859.38,712.35 L860.30,713.67 L861.23,715.00 L862.14,716.34 L863.00,717.71 L863.78,719.10 L864.46,720.53 L865.00,722.01 L865.40,723.53 L865.67,725.09 L865.82,726.68 L865.87,728.29 L865.82,729.91 L865.68,731.53 L865.48,733.14 L865.21,734.74" fill="none" stroke-width="1.4"/><path d="M865.3,734.7 L860.8,739.2" fill="none" stroke-width="1.4"/><path d="M849.9,702.3 L849.9,696.7 L842.8,694.0 L841.3,691.8 L849.2,686.5 L858.6,693.3 L858.6,697.8 L855.2,701.6" fill="#fafafa" stroke-width="1.8"/><path d="M849.9,696.7 L852.2,695.9 L858.6,693.3" fill="none" stroke-width="1.2"/><path d="M852.2,695.9 L852.4,702.5" fill="none" stroke-width="1.1"/><path d="M860.1,699.3 L863.1,695.9 L874.4,701.6 L868.4,706.1 L865.3,704.6" fill="none" stroke-width="1.8"/><path d="M856.3,700.8 L857.8,707.6 L863.1,704.6 L856.3,700.8" fill="none" stroke-width="1.2"/><ellipse cx="849.2" cy="691.4" rx="2.4" ry="1.5" fill="none" stroke-width="1.2"/><ellipse cx="865.7" cy="701.2" rx="2.4" ry="1.5" fill="none" stroke-width="1.2"/></g>
<g transform="translate(52.00 3.25)"><path d="M849.89,702.20 L848.20,702.69 L846.68,703.34 L845.32,704.12 L844.12,705.03 L843.08,706.06 L842.20,707.19 L841.45,708.42 L840.85,709.74 L840.39,711.12 L840.05,712.57 L839.85,714.07 L839.77,715.61 L839.80,717.17 L839.95,718.76 L840.20,720.34 L840.56,721.93 L841.02,723.49 L841.58,725.04 L842.22,726.55 L842.96,728.02 L843.78,729.43 L844.69,730.79 L845.67,732.07 L846.73,733.28 L847.87,734.40 L849.07,735.42 L850.34,736.34 L851.66,737.14 L853.05,737.81 L854.50,738.36 L855.98,738.76 L857.49,739.01 L858.99,739.10 L860.46,739.02 L861.90,738.77 L863.27,738.35 L864.58,737.77 L865.83,737.03 L867.00,736.17 L868.10,735.17 L869.11,734.07 L870.03,732.86 L870.87,731.57 L871.60,730.20 L872.23,728.76 L872.75,727.26 L873.16,725.73 L873.45,724.16 L873.61,722.58 L873.65,720.99 L873.55,719.40 L873.32,717.83 L872.94,716.28 L872.43,714.77 L871.79,713.31 L871.05,711.88 L870.22,710.52 L869.31,709.20 L868.34,707.96 L867.32,706.78 L866.27,705.68 L865.20,704.66" fill="none" stroke-width="1.9"/><path d="M854.01,703.65 L852.61,704.76 L851.44,705.95 L850.50,707.21 L849.78,708.55 L849.25,709.93 L848.92,711.37 L848.78,712.84 L848.80,714.34 L848.99,715.85 L849.32,717.38 L849.80,718.90 L850.41,720.41 L851.13,721.90 L851.97,723.36 L852.90,724.77 L853.91,726.14 L855.01,727.45 L856.17,728.69 L857.38,729.85 L858.64,730.93 L859.93,731.90 L861.24,732.77 L862.57,733.52 L863.90,734.14 L865.22,734.63" fill="none" stroke-width="1.4"/><path d="M856.13,700.87 L855.86,702.47 L855.84,704.01 L856.05,705.49 L856.45,706.92 L857.02,708.31 L857.71,709.68 L858.51,711.02 L859.38,712.35 L860.30,713.67 L861.23,715.00 L862.14,716.34 L863.00,717.71 L863.78,719.10 L864.46,720.53 L865.00,722.01 L865.40,723.53 L865.67,725.09 L865.82,726.68 L865.87,728.29 L865.82,729.91 L865.68,731.53 L865.48,733.14 L865.21,734.74" fill="none" stroke-width="1.4"/><path d="M865.3,734.7 L860.8,739.2" fill="none" stroke-width="1.4"/><path d="M849.9,702.3 L849.9,696.7 L842.8,694.0 L841.3,691.8 L849.2,686.5 L858.6,693.3 L858.6,697.8 L855.2,701.6" fill="#fafafa" stroke-width="1.8"/><path d="M849.9,696.7 L852.2,695.9 L858.6,693.3" fill="none" stroke-width="1.2"/><path d="M852.2,695.9 L852.4,702.5" fill="none" stroke-width="1.1"/><path d="M860.1,699.3 L863.1,695.9 L874.4,701.6 L868.4,706.1 L865.3,704.6" fill="none" stroke-width="1.8"/><path d="M856.3,700.8 L857.8,707.6 L863.1,704.6 L856.3,700.8" fill="none" stroke-width="1.2"/><ellipse cx="849.2" cy="691.4" rx="2.4" ry="1.5" fill="none" stroke-width="1.2"/><ellipse cx="865.7" cy="701.2" rx="2.4" ry="1.5" fill="none" stroke-width="1.2"/></g>
<path d="M410.2,614 L414.6,614 L414.6,582.1 L411.6,582.1 Q408,587 402,590.2 L402,594 Q407,591.8 410.2,589.2 Z" fill="#000" stroke="none"/>
</g>
<text x="384.3" y="333.5" class="num">3</text>
<text x="428.6" y="530.8" class="num" style="font-size:45.6px">2</text>
<text x="793.6" y="515.8" class="num">4</text>
<text x="961.8" y="698.5" class="num">5</text>
<text transform="translate(146.38 786.70) scale(0.955 1)" class="cap">P</text>
<text transform="translate(161.64 786.70) scale(1.021 1)" class="cap">A</text>
<text transform="translate(180.22 786.70) scale(0.795 1)" class="cap">R</text>
<text transform="translate(194.76 786.70) scale(0.979 1)" class="cap">T</text>
<text transform="translate(217.40 786.70) scale(0.882 1)" class="cap">C</text>
<text transform="translate(232.87 786.70) scale(0.967 1)" class="cap">A</text>
<text transform="translate(251.33 786.70) scale(0.858 1)" class="cap">N</text>
<text transform="translate(275.37 786.70) scale(0.827 1)" class="cap">B</text>
<text transform="translate(290.56 786.70) scale(0.835 1)" class="cap">E</text>
<text transform="translate(313.73 786.70) scale(0.852 1)" class="cap">F</text>
<text transform="translate(326.10 786.70) scale(0.985 1)" class="cap">O</text>
<text transform="translate(345.00 786.70) scale(0.899 1)" class="cap">U</text>
<text transform="translate(361.63 786.70) scale(0.919 1)" class="cap">N</text>
<text transform="translate(378.32 786.70) scale(0.999 1)" class="cap">D</text>
<text transform="translate(405.67 786.70) scale(0.967 1)" class="cap">A</text>
<text transform="translate(423.22 786.70) scale(0.902 1)" class="cap">S</text>
<text transform="translate(445.54 786.70) scale(0.852 1)" class="cap">R</text>
<text transform="translate(461.56 786.70) scale(0.835 1)" class="cap">E</text>
<text transform="translate(476.73 786.70) scale(0.852 1)" class="cap">F</text>
<text transform="translate(490.36 786.70) scale(0.835 1)" class="cap">E</text>
<text transform="translate(504.74 786.70) scale(0.852 1)" class="cap">R</text>
<text transform="translate(520.76 786.70) scale(0.835 1)" class="cap">E</text>
<text transform="translate(535.83 786.70) scale(0.919 1)" class="cap">N</text>
<text transform="translate(553.15 786.70) scale(0.937 1)" class="cap">C</text>
<text transform="translate(570.46 786.70) scale(0.771 1)" class="cap">E</text>
<text transform="translate(592.16 786.70) scale(1.171 1)" class="cap">&#35;</text>
<text transform="translate(617.70 786.70) scale(0.929 1)" class="cap">1</text>
<path fill="#d7141c" style="mix-blend-mode:multiply" d="M640.60,771.43 H647.80 V774.13 H646.05 V784.00 H647.80 V786.70 H640.60 V784.00 H642.35 V774.13 H640.60 Z"/>
<text transform="translate(649.45 786.70) scale(1.042 1)" class="cap">N</text>
<path fill="#d7141c" style="mix-blend-mode:multiply" d="M678.20,771.43 H685.40 V774.13 H683.65 V784.00 H685.40 V786.70 H678.20 V784.00 H679.95 V774.13 H678.20 Z"/>
<text transform="translate(688.25 786.70) scale(0.772 1)" class="cap">L</text>
<text transform="translate(702.20 786.70) scale(0.808 1)" class="cap">L</text>
<text transform="translate(713.64 786.70) scale(1.019 1)" class="cap">U</text>
<text transform="translate(731.18 786.70) scale(0.962 1)" class="cap">S</text>
<text transform="translate(747.57 786.70) scale(0.918 1)" class="cap">T</text>
<text transform="translate(762.54 786.70) scale(0.852 1)" class="cap">R</text>
<text transform="translate(777.64 786.70) scale(1.021 1)" class="cap">A</text>
<text transform="translate(793.97 786.70) scale(0.918 1)" class="cap">T</text>
<path fill="#d7141c" style="mix-blend-mode:multiply" d="M811.00,771.43 H819.00 V774.13 H816.85 V784.00 H819.00 V786.70 H811.00 V784.00 H813.15 V774.13 H811.00 Z"/>
<text transform="translate(821.35 786.70) scale(0.934 1)" class="cap">O</text>
<text transform="translate(840.83 786.70) scale(0.919 1)" class="cap">N</text>
</svg></body></html>
